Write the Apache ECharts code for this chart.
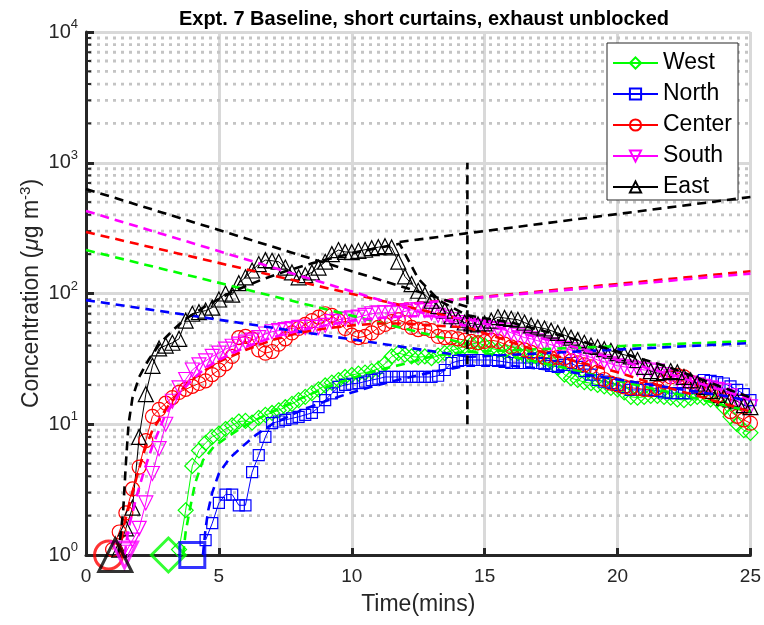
<!DOCTYPE html>
<html><head><meta charset="utf-8">
<script src="https://cdn.jsdelivr.net/npm/echarts@6/dist/echarts.min.js"></script>
<style>html,body{margin:0;padding:0;background:#fff}#c{width:764px;height:625px}</style>
</head><body><div id="c"></div>
<script>
// ---- data (sample step 0.25 min) ----
const step = 0.25;
const westStart = 3.5;
const westValues = [1.1,2.2,4.8,6.3,7.2,8,8.5,9.2,9.8,10.5,10.6,10.3,11.2,11.8,12.2,12.8,13.5,14.3,15.3,16.2,17.3,18.5,19.8,20.8,21.8,23,23.8,24.4,24.8,25.5,26.5,29,33,35,34,33,32.5,33,32,33.5,35,36.5,38,39.5,41,42,40,38,37,36,35.5,35,33.5,32.5,32,31.5,30,27,24,22.5,21.8,21,20.6,20,19.5,19,18.5,17.5,16.2,16,16.2,16.5,16.5,16.2,16,15.5,15.3,15.8,16.2,16,15.5,15.3,13.5,11.4,10,9,8.6];
const northStart = 4.5;
const northValues = [1.3,1.75,2.5,2.9,2.9,2.4,2.4,4.3,5.8,8,10.2,10.5,10.8,11.1,11.4,11.8,12.2,13.5,15.3,17.2,19.3,20,20.4,20.6,21.2,21.8,22.3,23,23,23,23,23,23,23,23,23.5,26,29.4,30.5,31,31,31,31,31,30.5,30,29.4,29.4,29.4,29.4,29.4,29,28,27.5,28.5,29.4,27.5,25.5,24,21.8,21.2,20.6,20,19.2,18.3,18.3,18.3,18.3,18,17.5,17.3,17.3,17.3,17.3,19,21.8,21.5,21,20.5,19.5,18.3,17,15.3];
const centerStart = 1.0;
const centerValues = [1.1,1.5,2.1,3.2,4.7,7.5,11.5,13,14.5,16,17.5,18.5,19.5,20.5,21.5,24,26,29,33,46,47,45,37,35,36,41,45,50,54,58,62,66,70,68,62,54,48,46,47,50,55,58,61,63,60,55,53,54,52,47,46,46,45,44,43,42,43,44,43,41,39,38,37,35.5,34,32.5,32,32.5,32,30.5,29.5,28.5,27.5,25,22,20.6,20,19.3,19,18.8,18.5,18.3,19,21,23,23.7,23,21,19.5,18.3,17.5,16.5,15.5,12.5,11.5,10.8,10.2];
const southStart = 1.5;
const southValues = [1.05,1.3,1.6,2.5,4.2,6.5,10,15,19,22,26,28.5,30.5,33,35,37.5,39.5,41,42.5,44,46,49,51,52,53,54,55,55,55,55,57,61,63,64,65,66,68,70,71,71,71,71,73,75,75,74,71,68,66,63,60,58,57,56,55,54,53,52.5,50,48,46,45,43.5,42,40.5,39,38,37,35,33.5,32.5,31,30,29,28,27.5,27,26.5,26,26,25.5,24,23,22,21,20.6,20,19.5,19,18.5,18,16.5,15,14,13.6];
const eastStart = 1.25;
const eastValues = [1.1,1.6,2.3,8,17,28,38,40,42,45,62,70,72,74,78,90,100,98,120,133,150,168,180,178,175,158,145,133,138,145,158,175,200,215,208,207,212,216,222,226,230,225,175,135,118,105,98,88,80,74,67,63,60,59,58,59,62,66,65,64,63,60,57,55,54,52,50,48,46,44,42,40,39,37.5,36.5,35,34,33,31,27.5,25.5,24.6,25,25.5,25,23,21.7,20.5,19.3,18,16.8,16,15.5,15,14,13.5];

// release start markers [time, value]
const westMark = [3.1, 1], northMark = [4.0, 1], centerMark = [0.85, 1], southMark = [1.45, 1], eastMark = [1.1, 1];

// fitted curves [time, value]
const westFit = [[3.65,1],[3.75,1.5],[3.9,2.2],[4.1,3.5],[4.4,5.3],[4.8,6.7],[5.4,8.2],[6,9.8],[7,12.5],[8,15.5],[9,19],[10,22.5],[11,26],[12,29],[13,33],[14.35,36],[16,33],[18,27],[20,21.5],[22,17.5],[24,14],[25,12.5]];
const northFit = [[4.4,1],[4.5,1.6],[4.6,2.2],[4.75,3],[5,4.2],[5.4,5.5],[5.9,6.8],[6.4,8.3],[7,10],[8,12.5],[9,15],[10,17.5],[11,20],[12,22.5],[13,25],[14.35,28],[16,28],[18,25.5],[20,22],[22,19],[24,16.5],[25,15]];
const centerFit = [[1.25,1],[1.4,1.6],[1.65,2.5],[1.9,3.9],[2.2,6.3],[2.5,9],[3,13],[3.5,17.5],[4,22],[4.5,26],[5,30],[6,37],[7,44],[8,50],[9,54],[10,57],[11,59],[12,59],[13,57],[14.35,55],[15.5,46],[16.7,38],[18,32],[20,25],[21.5,20],[23,16.5],[25,12.5]];
const southFit = [[1.45,1],[1.6,1.6],[1.9,2.8],[2.2,4.5],[2.5,6.8],[3,12],[3.5,17],[4,22],[4.5,27],[5,31],[6,39],[7,46],[8,52],[9,57],[10,62],[11,65],[12,67],[13,67],[14.35,64],[16,52],[18,41],[20,31],[22,24],[24,18],[25,15.5]];
const eastFit = [[1.2,1],[1.3,1.4],[1.4,2.2],[1.5,5],[1.6,10],[1.75,16],[2,23],[2.35,31],[2.8,42],[3.3,53],[3.7,63],[4.5,80],[5.5,103],[6.5,125],[7.5,148],[8.5,170],[9.5,192],[10.5,213],[11.8,240],[12.5,130],[13.3,88],[14.35,68],[16,60],[18,47],[20,36],[22,27],[24,19],[25,16]];

// straight decay / growth lines [time, value]
const westDecay = [[0,215],[14.35,41]], westGrowth = [[14.35,35.7],[25,43.3]];
const northDecay = [[0,89],[14.35,33]], northGrowth = [[14.35,32.7],[25,41.8]];
const centerDecay = [[0,295],[14.35,62]], centerGrowth = [[11.8,82],[25,148]];
const southDecay = [[0,428],[14.35,56]], southGrowth = [[11.8,82],[25,142]];
const eastDecay = [[0,630],[14.35,79]], eastGrowth = [[11.8,248],[25,547]];
const stopLine = [[14.35,10],[14.35,1000]];

const xTicks = [0,5,10,15,20,25];
const yDecades = [1,10,100,1000,10000];

// ---- build ----
const FONT = 'Liberation Sans, Arial, Helvetica, sans-serif';
function pairs(t0, vals){ return vals.map((v,i)=>[+(t0+i*step).toFixed(3), v]); }
const minorVals = [];
for (let d=0; d<yDecades.length-1; d++) for (let k=2;k<=9;k++) minorVals.push([0, yDecades[d]*k]);

const C = {West:'#00ff00', North:'#0000ff', Center:'#ff0000', South:'#ff00ff', East:'#000000'};
const loc = [
  {name:'West', data:pairs(westStart,westValues), sym:'diamond', size:15, rot:0, mark:westMark, msize:34, fit:westFit, dec:westDecay, gro:westGrowth},
  {name:'North', data:pairs(northStart,northValues), sym:'rect', size:11, rot:0, mark:northMark, msize:25, fit:northFit, dec:northDecay, gro:northGrowth},
  {name:'Center', data:pairs(centerStart,centerValues), sym:'circle', size:14, rot:0, mark:centerMark, msize:28, fit:centerFit, dec:centerDecay, gro:centerGrowth},
  {name:'South', data:pairs(southStart,southValues), sym:'triangle', size:14, rot:180, mark:southMark, msize:26, fit:southFit, dec:southDecay, gro:southGrowth},
  {name:'East', data:pairs(eastStart,eastValues), sym:'triangle', size:15, rot:0, mark:eastMark, msize:33, fit:eastFit, dec:eastDecay, gro:eastGrowth}
];

const series = [];
series.push({
  type:'custom', silent:true, z:1, data:minorVals, clip:false,
  renderItem:(p, api)=>{
    const v = api.value(1);
    const a = api.coord([0, v]), b = api.coord([25, v]);
    return {type:'group', children:[
      {type:'line', shape:{x1:a[0]+3, y1:a[1], x2:b[0], y2:b[1]}, style:{stroke:'#c4c4c4', lineWidth:2.8, lineDash:[3,5]}},
      {type:'line', shape:{x1:a[0], y1:a[1], x2:a[0]+5, y2:a[1]}, style:{stroke:'#262626', lineWidth:2}}
    ]};
  }
});
loc.forEach(L=>{
  const c = C[L.name];
  series.push({
    name:L.name, type:'line', data:L.data, symbol:L.sym, symbolSize:L.size, symbolRotate:L.rot,
    showAllSymbol:true, z:3, clip:true,
    itemStyle:{color:'rgba(255,255,255,0)', borderColor:c, borderWidth:1.2},
    lineStyle:{color:c, width:1}
  });
});
loc.forEach(L=>{
  const c = C[L.name];
  const dash = {type:'line', symbol:'none', z:4, silent:true, clip:true};
  series.push(Object.assign({}, dash, {name:L.name+' fit', data:L.fit, lineStyle:{color:c, width:2.6, type:[9,6]}}));
  series.push(Object.assign({}, dash, {name:L.name+' decay', data:L.dec, lineStyle:{color:c, width:2.6, type:[9,6]}}));
  series.push(Object.assign({}, dash, {name:L.name+' growth', data:L.gro, lineStyle:{color:c, width:2.6, type:[9,6]}}));
});
series.push({type:'line', name:'stop', data:stopLine, symbol:'none', z:4, silent:true, lineStyle:{color:'#000', width:2.6, type:[9,6]}});
loc.forEach(L=>{
  const c = C[L.name];
  series.push({
    name:L.name+' start', type:'scatter', data:[L.mark], symbol:L.sym, symbolSize:L.msize, symbolRotate:L.rot,
    clip:false, z:6, silent:true,
    itemStyle:{color:'rgba(255,255,255,0)', borderColor:c, borderWidth:3}
  });
});

const chart = echarts.init(document.getElementById('c'), null, {renderer:'canvas'});
chart.setOption({
  animation:false,
  backgroundColor:'#fff',
  title:{text:'Expt. 7 Baseline, short curtains, exhaust unblocked', left:419, top:4, textAlign:'center',
    textStyle:{fontFamily:FONT, fontSize:20, fontWeight:'bold', color:'#000'}},
  grid:{left:86, right:12, top:32, bottom:70, containLabel:false},
  legend:{
    data:['West','North','Center','South','East'], orient:'vertical', left:607, top:43,
    backgroundColor:'#fff', borderColor:'#262626', borderWidth:1, padding:[8,6,1,5],
    itemWidth:45, itemHeight:14, itemGap:7,
    textStyle:{fontFamily:FONT, fontSize:23, color:'#000', lineHeight:24}
  },
  xAxis:{
    type:'value', min:0, max:25, interval:5,
    name:'Time(mins)', nameLocation:'middle', nameGap:38,
    nameTextStyle:{fontFamily:FONT, fontSize:23, color:'#262626'},
    axisLine:{show:true, onZero:false, lineStyle:{color:'#262626', width:3}},
    axisTick:{show:true, inside:true, length:7, lineStyle:{color:'#262626', width:3}},
    axisLabel:{fontFamily:FONT, fontSize:19, color:'#262626', margin:12},
    splitLine:{show:true, lineStyle:{color:'#d9d9d9', width:3}}
  },
  yAxis:{
    type:'log', logBase:10, min:1, max:10000,
    name:'Concentration ({i|μ}g m{sup|-3})', nameLocation:'middle', nameGap:40, nameMoveOverlap:false,
    nameTextStyle:{fontFamily:FONT, fontSize:23, color:'#262626', lineHeight:28,
      rich:{i:{fontFamily:FONT, fontSize:23, fontStyle:'italic', color:'#262626', lineHeight:28},
            sup:{fontFamily:FONT, fontSize:15, color:'#262626', verticalAlign:'top', lineHeight:15}}},
    axisLine:{show:true, onZero:false, lineStyle:{color:'#262626', width:3}},
    axisTick:{show:true, inside:true, length:8, lineStyle:{color:'#262626', width:3}},
    axisLabel:{fontFamily:FONT, color:'#262626', margin:8,
      formatter:v=>'{b|10}{s|'+Math.round(Math.log10(v))+'}',
      rich:{b:{fontFamily:FONT, fontSize:20, color:'#262626', lineHeight:28},
            s:{fontFamily:FONT, fontSize:13, color:'#262626', verticalAlign:'top', lineHeight:13}}},
    splitLine:{show:true, lineStyle:{color:'#d9d9d9', width:3}},
    minorTick:{show:false}, minorSplitLine:{show:false}
  },
  series:series
});
</script></body></html>
